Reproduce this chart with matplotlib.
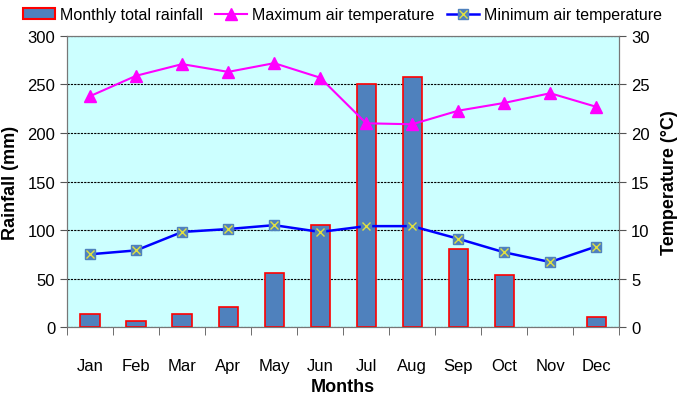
import matplotlib.pyplot as plt
import numpy as np
from matplotlib.patches import Patch
from matplotlib.lines import Line2D

plt.rcParams['font.family'] = ['Liberation Sans', 'DejaVu Sans']

months = ['Jan', 'Feb', 'Mar', 'Apr', 'May', 'Jun', 'Jul', 'Aug', 'Sep', 'Oct', 'Nov', 'Dec']
rainfall = [13, 6, 13, 21, 56, 105, 250, 258, 80, 54, 0, 10]
max_temp = [23.8, 25.9, 27.1, 26.3, 27.2, 25.7, 21.0, 20.9, 22.3, 23.1, 24.1, 22.7]
min_temp = [7.5, 7.9, 9.8, 10.1, 10.5, 9.8, 10.4, 10.4, 9.1, 7.7, 6.7, 8.3]

x = np.arange(len(months))

fig = plt.figure(figsize=(6.85, 4.02), dpi=100)
ax = fig.add_axes([0.098, 0.184, 0.806, 0.724])
ax.set_facecolor('#CCFFFF')

edges = ['red' if r > 0 else 'none' for r in rainfall]
ax.bar(x, rainfall, width=0.42, color='#4F81BD', edgecolor=edges, linewidth=1.2, zorder=3)
ax.set_ylim(0, 300)
ax.set_xlim(-0.5, 11.5)
ax.set_yticks(np.arange(0, 301, 50))
ax.yaxis.grid(True, linestyle=(0, (2, 1)), color='black', linewidth=0.8, zorder=0)
ax.set_axisbelow(True)

ax.set_xticks(x)
ax.set_xticklabels(months)
ax.set_xticks(np.arange(-0.5, 12, 1), minor=True)
ax.tick_params(axis='x', which='major', length=0, pad=22, labelsize=12)
ax.tick_params(axis='x', which='minor', length=6, direction='out', color='#555555')
ax.tick_params(axis='y', labelsize=12, length=5, color='#555555')
for s in ax.spines.values():
    s.set_color('#777777')

ax2 = ax.twinx()
ax2.set_ylim(0, 30)
ax2.set_yticks(np.arange(0, 31, 5))
ax2.tick_params(axis='y', labelsize=12, length=5, color='#555555')
for s in ax2.spines.values():
    s.set_color('#777777')

ax2.plot(x, max_temp, color='#FF00FF', linewidth=1.5, marker='^', markersize=9, zorder=4)
ax2.plot(x, min_temp, color='#0000FF', linewidth=1.8, marker='s', markersize=7,
         markerfacecolor='#4F81BD', markeredgecolor='#4F81BD', zorder=4)
ax2.plot(x, min_temp, linestyle='none', marker='x', markersize=6, markeredgecolor='#E0E040',
         markeredgewidth=1, zorder=5)

ax.set_ylabel('Rainfall (mm)', fontsize=13, fontweight='bold', labelpad=6)
ax2.set_ylabel('Temperature (°C)', fontsize=13, fontweight='bold', labelpad=8)
ax.set_xlabel('Months', fontsize=13, fontweight='bold', labelpad=4)

handles = [
    Patch(facecolor='#4F81BD', edgecolor='red', linewidth=1.5),
    Line2D([], [], color='#FF00FF', linewidth=1.5, marker='^', markersize=9),
    (Line2D([], [], color='#0000FF', linewidth=1.8, marker='s', markersize=7,
            markerfacecolor='#4F81BD', markeredgecolor='#4F81BD'),
     Line2D([], [], linestyle='none', marker='x', markersize=6, markeredgecolor='#E0E040')),
]
labels = ['Monthly total rainfall', 'Maximum air temperature', 'Minimum air temperature']
fig.legend(handles, labels, loc='upper center', bbox_to_anchor=(0.5, 1.015), ncol=3,
           frameon=False, handlelength=2.0, columnspacing=0.8,
           handletextpad=0.3, prop={'size': 11.5})

plt.savefig('out.png', dpi=100)
